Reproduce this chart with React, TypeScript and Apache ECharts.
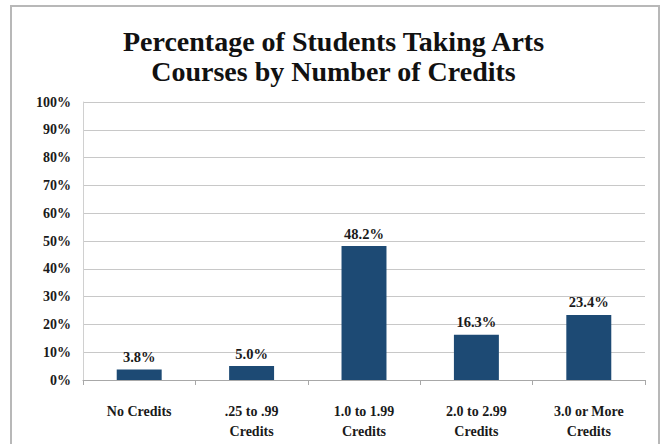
import React, { useEffect, useRef } from "react";
import * as echarts from "echarts";

const titleLines = ["Percentage of Students Taking Arts", "Courses by Number of Credits"];
const categories = ["No Credits", ".25 to .99\nCredits", "1.0 to 1.99\nCredits", "2.0 to 2.99\nCredits", "3.0 or More\nCredits"];
const values = [3.8, 5.0, 48.2, 16.3, 23.4];

const FONT = "'Liberation Serif', serif";

export default function App() {
  const ref = useRef<HTMLDivElement>(null);
  useEffect(() => {
    document.body.style.margin = "0";
    const chart = echarts.init(ref.current!, null, { renderer: "svg" });
    chart.setOption({
      animation: false,
      backgroundColor: "#ffffff",
      title: {
        text: titleLines.join("\n"),
        left: "center",
        top: 21,
        textStyle: { fontFamily: FONT, fontSize: 28, fontWeight: "bold", color: "#111", lineHeight: 30 },
      },
      graphic: [
        {
          type: "rect",
          shape: { x: 11, y: 6, width: 648, height: 460 },
          style: { fill: "none", stroke: "#b8b8b8", lineWidth: 2 },
          silent: true,
        },
      ],
      grid: { left: 83, right: 22, top: 102, bottom: 64 },
      xAxis: {
        type: "category",
        data: categories,
        axisLine: { lineStyle: { color: "#a8a8a8", width: 1 } },
        axisTick: { show: true, alignWithLabel: false, length: 5, lineStyle: { color: "#a8a8a8" } },
        axisLabel: { fontFamily: FONT, fontSize: 14, fontWeight: "bold", color: "#1a1a1a", lineHeight: 20, margin: 21, interval: 0 },
      },
      yAxis: {
        type: "value",
        min: 0,
        max: 100,
        interval: 10,
        axisLine: { show: true, lineStyle: { color: "#d0d0d0" } },
        axisTick: { show: false },
        splitLine: { lineStyle: { color: "#c8c8c8", width: 1 } },
        axisLabel: { fontFamily: FONT, fontSize: 14, fontWeight: "bold", color: "#1a1a1a", margin: 12, formatter: "{value}%" },
      },
      series: [
        {
          type: "bar",
          data: values,
          barWidth: "40%",
          itemStyle: { color: "#1d4a74" },
          label: {
            show: true,
            position: "top",
            distance: 5,
            fontFamily: FONT,
            fontSize: 14.5,
            fontWeight: "bold",
            color: "#1a1a1a",
            formatter: (p: any) => p.value.toFixed(1) + "%",
          },
        },
      ],
    });
    return () => chart.dispose();
  }, []);
  return <div ref={ref} style={{ width: 667, height: 444 }} />;
}
